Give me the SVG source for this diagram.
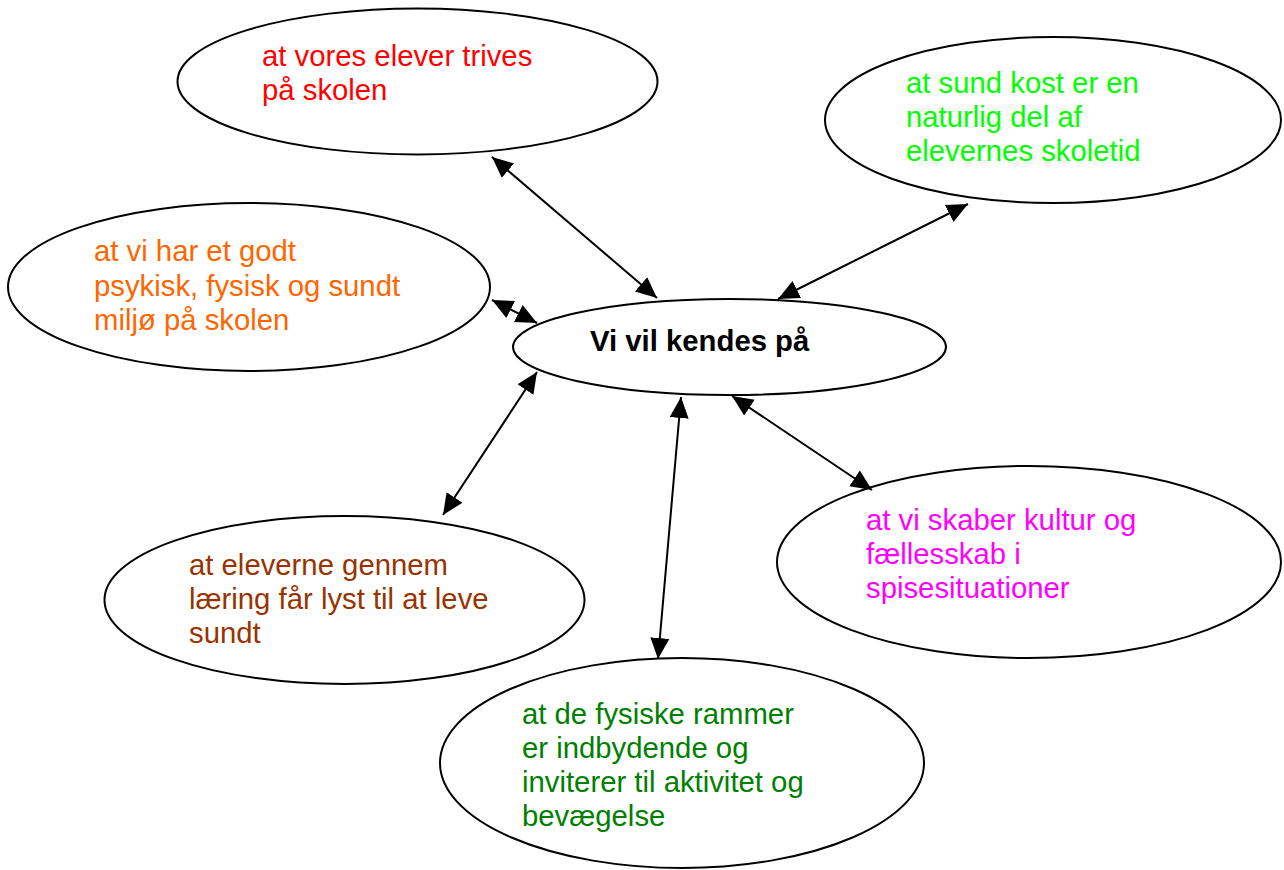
<svg xmlns="http://www.w3.org/2000/svg" width="1284" height="870" viewBox="0 0 1284 870">
  <style>
    .node { fill: #ffffff; stroke: #000000; stroke-width: 2; }
    .lbl { font-family: "Liberation Sans", Arial, sans-serif; font-size: 29.3px; }
    .conn { stroke: #000000; stroke-width: 2; fill: none; marker-start: url(#ah); marker-end: url(#ah); }
  </style>
  <defs>
    <marker id="ah" markerUnits="userSpaceOnUse" markerWidth="24" markerHeight="24" refX="21" refY="0" viewBox="0 -12 24 24" orient="auto-start-reverse">
      <path d="M0,-9.5 L21,0 L0,9.5 Z" fill="#000000"/>
    </marker>
  </defs>
  <rect width="1284" height="870" fill="#ffffff"/>

  <g id="n-trives">
    <ellipse class="node" cx="417.5" cy="81.5" rx="240" ry="73"/>
    <text class="lbl" fill="#FF0000"><tspan x="262" y="66">at vores elever trives</tspan><tspan x="262" y="100">på skolen</tspan></text>
  </g>
  <g id="n-kost">
    <ellipse class="node" cx="1053" cy="120" rx="228" ry="83"/>
    <text class="lbl" fill="#00FF00"><tspan x="906" y="93">at sund kost er en</tspan><tspan x="906" y="127">naturlig del af</tspan><tspan x="906" y="161">elevernes skoletid</tspan></text>
  </g>
  <g id="n-miljo">
    <ellipse class="node" cx="249" cy="287" rx="241" ry="84"/>
    <text class="lbl" fill="#FF6600"><tspan x="94" y="261">at vi har et godt</tspan><tspan x="94" y="295.5">psykisk, fysisk og sundt</tspan><tspan x="94" y="330">miljø på skolen</tspan></text>
  </g>
  <g id="n-center">
    <ellipse class="node" cx="729.5" cy="347" rx="216.5" ry="48"/>
    <text class="lbl" fill="#000000" font-weight="bold" x="590" y="351">Vi vil kendes på</text>
  </g>
  <g id="n-laering">
    <ellipse class="node" cx="344.5" cy="600" rx="240" ry="84"/>
    <text class="lbl" fill="#993300"><tspan x="189" y="575">at eleverne gennem</tspan><tspan x="189" y="609">læring får lyst til at leve</tspan><tspan x="189" y="643">sundt</tspan></text>
  </g>
  <g id="n-kultur">
    <ellipse class="node" cx="1029" cy="562" rx="252" ry="96"/>
    <text class="lbl" fill="#FF00FF"><tspan x="866" y="530">at vi skaber kultur og</tspan><tspan x="866" y="564">fællesskab i</tspan><tspan x="866" y="598">spisesituationer</tspan></text>
  </g>
  <g id="n-rammer">
    <ellipse class="node" cx="682" cy="763" rx="242" ry="105"/>
    <text class="lbl" fill="#008000"><tspan x="522" y="724">at de fysiske rammer</tspan><tspan x="522" y="758">er indbydende og</tspan><tspan x="522" y="792">inviterer til aktivitet og</tspan><tspan x="522" y="826">bevægelse</tspan></text>
  </g>

  <g id="connectors">
    <line class="conn" x1="492" y1="157" x2="657" y2="298"/>
    <line class="conn" x1="968" y1="204" x2="778" y2="299"/>
    <line class="conn" x1="492" y1="300" x2="537" y2="323"/>
    <line class="conn" x1="537" y1="372" x2="443" y2="515"/>
    <line class="conn" x1="681" y1="397" x2="658" y2="659"/>
    <line class="conn" x1="732" y1="396" x2="872" y2="490"/>
  </g>
</svg>
